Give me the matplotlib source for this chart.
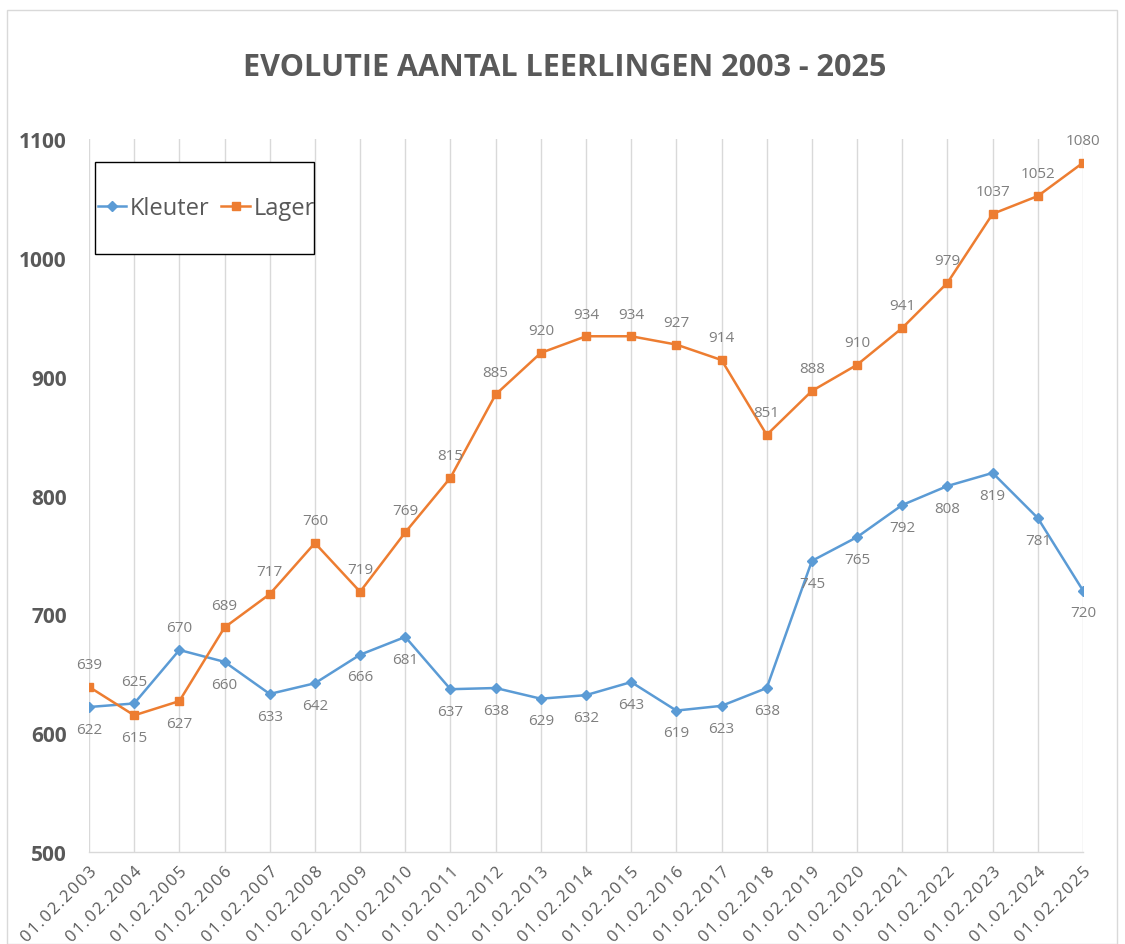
import matplotlib
matplotlib.use("Agg")
import matplotlib.pyplot as plt
from matplotlib.patches import Rectangle

dates = ["01.02.2003", "01.02.2004", "01.02.2005", "01.02.2006", "01.02.2007",
         "01.02.2008", "02.02.2009", "01.02.2010", "01.02.2011", "01.02.2012",
         "01.02.2013", "01.02.2014", "01.02.2015", "01.02.2016", "01.02.2017",
         "01.02.2018", "01.02.2019", "01.02.2020", "01.02.2021", "01.02.2022",
         "01.02.2023", "01.02.2024", "01.02.2025"]
kleuter = [622, 625, 670, 660, 633, 642, 666, 681, 637, 638, 629, 632, 643,
           619, 623, 638, 745, 765, 792, 808, 819, 781, 720]
lager = [639, 615, 627, 689, 717, 760, 719, 769, 815, 885, 920, 934, 934,
         927, 914, 851, 888, 910, 941, 979, 1037, 1052, 1080]
yticks = [500, 600, 700, 800, 900, 1000, 1100]

# label above (+1) or below (-1)
kleuter_pos = [-1, 1, 1] + [-1] * 20
lager_pos = [1, -1, -1] + [1] * 20

blue = "#5B9BD5"
orange = "#ED7D31"
gray = "#595959"

plt.rcParams['font.family'] = ['Open Sans', 'DejaVu Sans']

fig = plt.figure(figsize=(11.25, 9.45), dpi=100)
fig.patches.append(Rectangle((7 / 1125, 0), 1110 / 1125, 1 - 11 / 945,
                             transform=fig.transFigure, fill=False,
                             edgecolor="#d9d9d9", linewidth=1))
ax = fig.add_axes([89 / 1125, 1 - 853 / 945, (1083 - 89) / 1125, (853 - 140) / 945])

x = list(range(len(dates)))
ax.plot(x, kleuter, color=blue, linewidth=1.8, marker='D', markersize=4.8, label='Kleuter', zorder=3)
ax.plot(x, lager, color=orange, linewidth=1.8, marker='s', markersize=5.5, label='Lager', zorder=3)

for xi, v, p in zip(x, kleuter, kleuter_pos):
    ax.annotate(str(v), (xi, v), xytext=(0, 16 * p), textcoords='offset points',
                ha='center', va='center', fontsize=11, color="#7f7f7f")
for xi, v, p in zip(x, lager, lager_pos):
    ax.annotate(str(v), (xi, v), xytext=(0, 16 * p), textcoords='offset points',
                ha='center', va='center', fontsize=11, color="#7f7f7f")

ax.set_xlim(0, len(dates) - 1)
ax.set_ylim(500, 1100)
ax.set_yticks(yticks)
ax.set_yticklabels([str(t) for t in yticks], fontsize=15, fontweight='bold', color=gray)
ax.set_xticks(x)
spaced = ["\u200a".join(d) for d in dates]
ax.set_xticklabels(spaced, rotation=45, ha='right', va='top', rotation_mode='anchor',
                   fontsize=12, color=gray)
ax.tick_params(axis='y', length=0, pad=16)
ax.tick_params(axis='x', length=0, pad=8)
ax.grid(axis='x', color="#d9d9d9", linewidth=1)
ax.set_axisbelow(True)
for s in ['top', 'right', 'left']:
    ax.spines[s].set_visible(False)
ax.spines['bottom'].set_color("#d9d9d9")
ax.spines['bottom'].set_linewidth(1)

# legend box
x0 = (95 - 89) / 994
x1 = (314 - 89) / 994
y0 = (853 - 255) / 713
y1 = (853 - 163) / 713
ax.add_patch(Rectangle((x0, y0), x1 - x0, y1 - y0, transform=ax.transAxes,
                       fill=True, facecolor='white', edgecolor='black', linewidth=1,
                       zorder=5, clip_on=False))
leg = ax.legend(loc='center left', bbox_to_anchor=(x0 + 0.003, (y0 + y1) / 2), ncol=2,
                fontsize=17, frameon=False, handlelength=1.2, handletextpad=0.15,
                columnspacing=0.5, borderpad=0, borderaxespad=0)
leg.set_zorder(6)
for t in leg.get_texts():
    t.set_color(gray)

fig.text(565 / 1125, 1 - 68 / 945, "EVOLUTIE AANTAL LEERLINGEN 2003 - 2025",
         ha='center', va='center', fontsize=22, fontweight='bold', color=gray)

fig.savefig("out.png", dpi=100)
